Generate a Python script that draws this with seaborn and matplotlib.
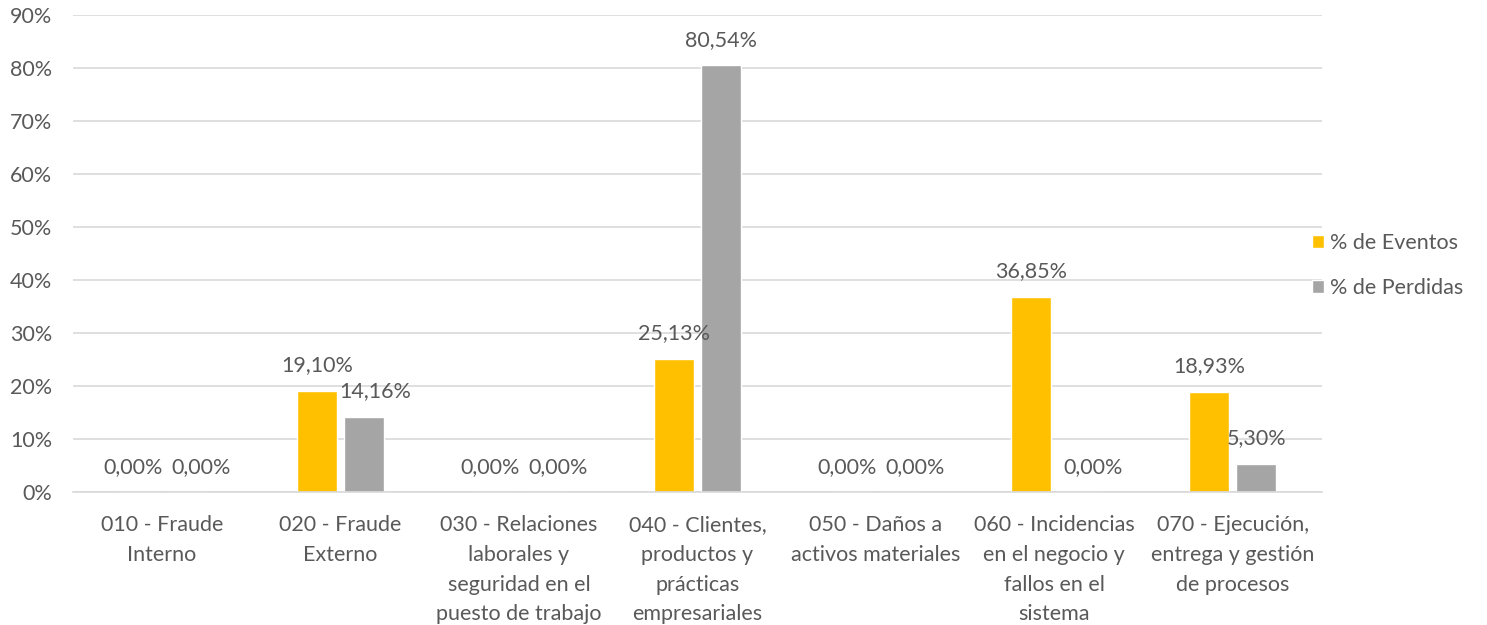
import numpy as np
import pandas as pd
import matplotlib
matplotlib.use("Agg")
import matplotlib.pyplot as plt
import seaborn as sns
from matplotlib.ticker import FuncFormatter

categorias = ["010 - Fraude\nInterno",
              "020 - Fraude\nExterno",
              "030 - Relaciones\nlaborales y\nseguridad en el\npuesto de trabajo",
              "040 - Clientes,\nproductos y\nprácticas\nempresariales",
              "050 - Daños a\nactivos materiales",
              "060 - Incidencias\nen el negocio y\nfallos en el\nsistema",
              "070 - Ejecución,\nentrega y gestión\nde procesos"]
eventos = [0.00, 19.10, 0.00, 25.13, 0.00, 36.85, 18.93]
perdidas = [0.00, 14.16, 0.00, 80.54, 0.00, 0.00, 5.30]
series = ["% de Eventos", "% de Perdidas"]

sns.set_style("white")
plt.rcParams['font.family'] = ['Lato', 'DejaVu Sans']
texto = "#595959"
fs = 15.5

df = pd.DataFrame({
    "cat": categorias * 2,
    "valor": eventos + perdidas,
    "serie": [series[0]] * len(categorias) + [series[1]] * len(categorias),
})

fig = plt.figure(figsize=(14.87, 6.25), dpi=100)
ax = fig.add_axes([0.049, 0.213, 0.84, 0.763])

sns.barplot(data=df, x="cat", y="valor", hue="serie",
            palette=["#FFC000", "#A5A5A5"], width=0.53, gap=0.15,
            saturation=1, ax=ax)

# etiquetas de datos; se separan un poco cuando chocan, como hace Excel
for i, cont in enumerate(ax.containers):
    labs = [f"{v:.2f}%".replace(".", ",") for v in cont.datavalues]
    txts = ax.bar_label(cont, labels=labs, padding=11, fontsize=fs, color=texto)
    for t, v, ev in zip(txts, cont.datavalues, eventos):
        if v == 0:
            t.xyann = ((-4, 11) if i == 0 else (11, 11))
        elif i == 1 and ev - 8 < v < ev:
            t.xyann = (8, 11)

ax.set_ylim(0, 90)
ax.set_yticks(np.arange(0, 91, 10))
ax.yaxis.set_major_formatter(FuncFormatter(lambda v, p: f"{v:.0f}%"))
ax.grid(axis="y", color="#D9D9D9", linewidth=1.2)
ax.set_axisbelow(True)
for s in ["top", "right", "left"]:
    ax.spines[s].set_visible(False)
ax.spines["bottom"].set_color("#D9D9D9")
ax.spines["bottom"].set_linewidth(1.2)
ax.tick_params(axis="y", length=0, pad=15, labelsize=fs, labelcolor=texto)
ax.tick_params(axis="x", length=0, pad=17, labelsize=fs, labelcolor=texto)
for t in ax.get_xticklabels():
    t.set_linespacing(1.6)
ax.set_xlabel("")
ax.set_ylabel("")

ax.legend(loc="center left", bbox_to_anchor=(0.869, 0.575), bbox_transform=fig.transFigure,
          frameon=False, fontsize=fs, labelcolor=texto, handlelength=0.6, handleheight=0.6,
          handletextpad=0.25, labelspacing=1.15)

fig.savefig("out.png", dpi=100)
